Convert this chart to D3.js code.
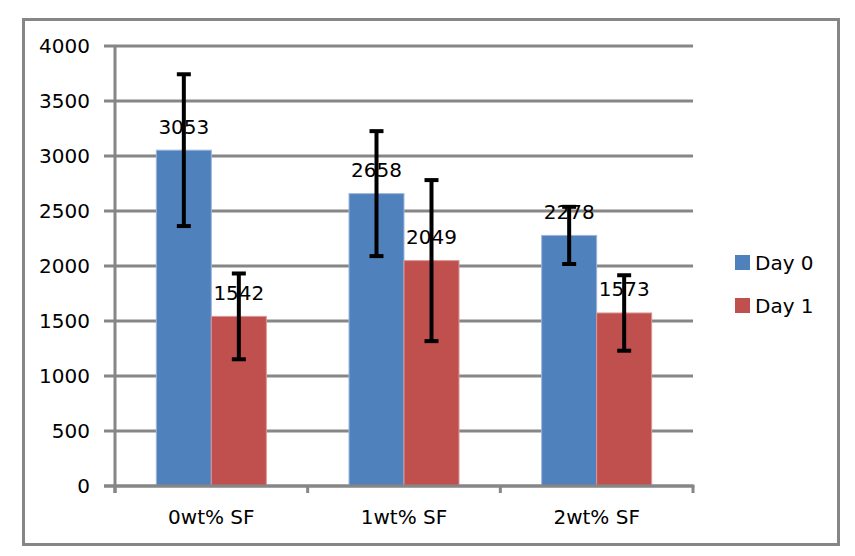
<!DOCTYPE html>
<html><head><meta charset="utf-8">
<script src="https://cdn.jsdelivr.net/npm/d3@7"></script>
<style>html,body{margin:0;padding:0;background:#fff;}svg{display:block;}</style>
</head><body>
<svg id="chart" width="855" height="556"></svg>
<script>
const categories = ["0wt% SF", "1wt% SF", "2wt% SF"];
const seriesNames = ["Day 0", "Day 1"];
const day0 = [3053, 2658, 2278];
const day1 = [1542, 2049, 1573];
const err0 = [690, 568, 260];
const err1 = [390, 732, 343];
const yTicks = [0, 500, 1000, 1500, 2000, 2500, 3000, 3500, 4000];
const colors = ["#4F81BD", "#C0504D"];

const svg = d3.select("#chart");
const font = "DejaVu Sans, Verdana, sans-serif";
const fs = 20;

// outer border
svg.append("rect").attr("x", 23.5).attr("y", 19.5).attr("width", 815).attr("height", 525)
  .attr("fill", "#fff").attr("stroke", "#868686").attr("stroke-width", 3);

const plot = {left: 115, right: 693, top: 46, bottom: 486};
const x0 = d3.scaleBand().domain(categories).range([plot.left, plot.right]).paddingInner(0).paddingOuter(0);
const y = d3.scaleLinear().domain([0, 4000]).range([plot.bottom, plot.top]);
const bw = 55;

// gridlines
svg.append("g").selectAll("line").data(yTicks).join("line")
  .attr("x1", plot.left - 11).attr("x2", plot.right)
  .attr("y1", d => y(d)).attr("y2", d => y(d))
  .attr("stroke", "#868686").attr("stroke-width", 3);

// y tick labels
svg.append("g").selectAll("text").data(yTicks).join("text")
  .attr("x", 90).attr("y", d => y(d)).attr("dy", "0.36em")
  .attr("text-anchor", "end").attr("font-family", font).attr("font-size", fs).attr("fill", "#000")
  .text(d => d);

// bars
const data = categories.map((c, i) => ({c, vals: [day0[i], day1[i]], errs: [err0[i], err1[i]]}));
const groups = svg.append("g").selectAll("g").data(data).join("g");
groups.each(function(d) {
  const g = d3.select(this);
  const cx = x0(d.c) + x0.bandwidth() / 2;
  d.vals.forEach((v, j) => {
    const bx = cx - bw + j * bw;
    g.append("rect").attr("x", bx).attr("y", y(v)).attr("width", bw).attr("height", y(0) - y(v))
      .attr("fill", colors[j]).attr("stroke", j === 0 ? "#9DB7DA" : "#D99694").attr("stroke-width", 1);
  });
});
groups.each(function(d) {
  const g = d3.select(this);
  const cx = x0(d.c) + x0.bandwidth() / 2;
  d.vals.forEach((v, j) => {
    const bc = cx - bw + j * bw + bw / 2;
    g.append("text").attr("x", bc).attr("y", y(v) - 16.5).attr("text-anchor", "middle")
      .attr("font-family", font).attr("font-size", fs).attr("fill", "#000").text(v);
  });
});
// error bars
groups.each(function(d) {
  const g = d3.select(this);
  const cx = x0(d.c) + x0.bandwidth() / 2;
  d.vals.forEach((v, j) => {
    const bc = cx - bw + j * bw + bw / 2;
    const hi = y(v + d.errs[j]), lo = y(v - d.errs[j]);
    g.append("line").attr("x1", bc).attr("x2", bc).attr("y1", hi).attr("y2", lo)
      .attr("stroke", "#000").attr("stroke-width", 4);
    [hi, lo].forEach(yy => g.append("line").attr("x1", bc - 7).attr("x2", bc + 7)
      .attr("y1", yy).attr("y2", yy).attr("stroke", "#000").attr("stroke-width", 4));
  });
});

// axes lines
svg.append("line").attr("x1", plot.left).attr("x2", plot.left).attr("y1", plot.top).attr("y2", plot.bottom + 7)
  .attr("stroke", "#868686").attr("stroke-width", 3);
svg.append("line").attr("x1", plot.left - 11).attr("x2", plot.right + 1.5).attr("y1", plot.bottom).attr("y2", plot.bottom)
  .attr("stroke", "#868686").attr("stroke-width", 3);
const bounds = categories.map(c => x0(c)).concat([plot.right]);
svg.append("g").selectAll("line").data(bounds).join("line")
  .attr("x1", d => d).attr("x2", d => d).attr("y1", plot.bottom).attr("y2", plot.bottom + 7)
  .attr("stroke", "#868686").attr("stroke-width", 3);

// x labels
svg.append("g").selectAll("text").data(categories).join("text")
  .attr("x", d => x0(d) + x0.bandwidth() / 2).attr("y", 524).attr("text-anchor", "middle")
  .attr("font-family", font).attr("font-size", fs).attr("fill", "#000").text(d => d);

// legend
const leg = svg.append("g").selectAll("g").data(seriesNames).join("g")
  .attr("transform", (d, i) => `translate(735, ${255 + i * 43})`);
leg.append("rect").attr("width", 15).attr("height", 15).attr("fill", (d, i) => colors[i]);
leg.append("text").attr("x", 20).attr("y", 7.5).attr("dy", "0.36em")
  .attr("font-family", font).attr("font-size", fs).attr("fill", "#000").text(d => d);
</script>
</body></html>
